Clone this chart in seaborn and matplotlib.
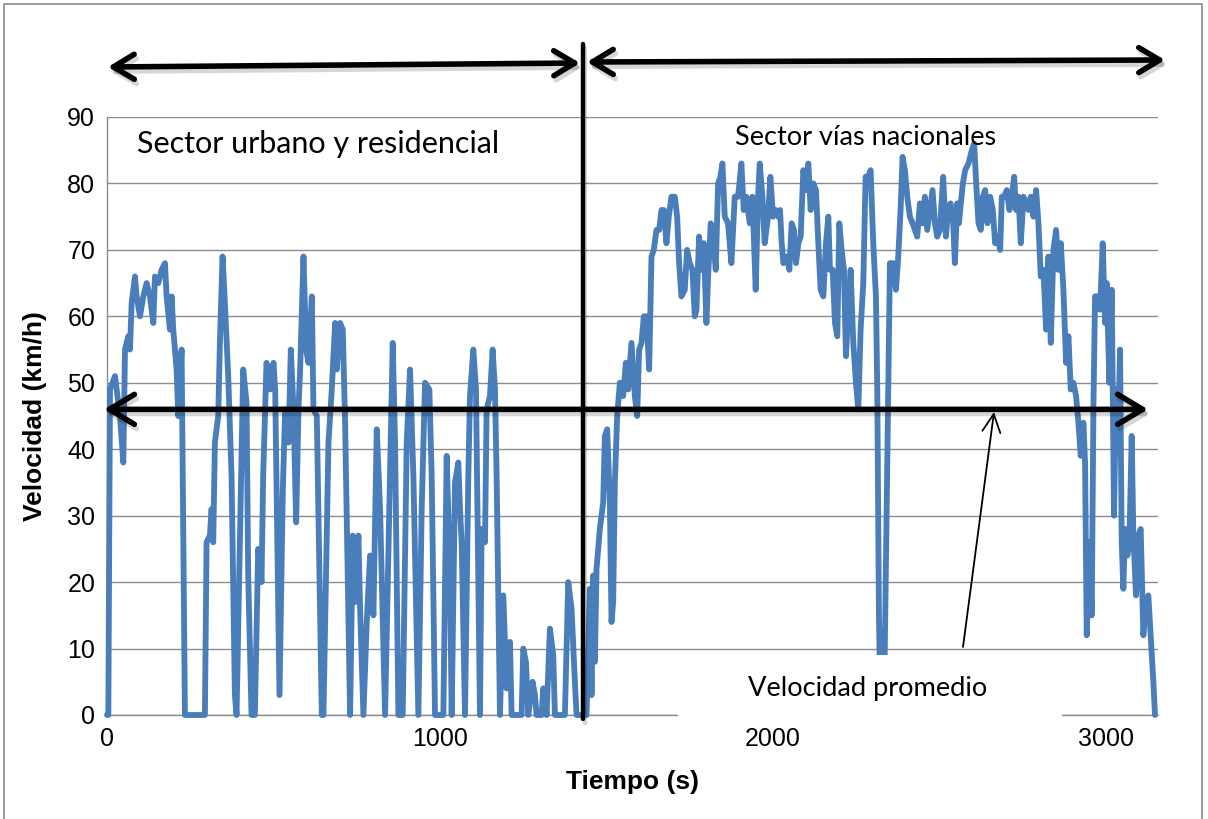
import matplotlib
matplotlib.use("Agg")
import matplotlib.pyplot as plt
import matplotlib.patheffects as pe
from matplotlib.patches import Rectangle, FancyArrowPatch
from matplotlib import font_manager
import pandas as pd
import seaborn as sns

# Speed trace (time in s, speed in km/h), urban / residential stretch
urban_trace = [
    (0, 0), (4, 0), (9, 49), (24, 51), (29, 49), (39, 45), (49, 38), (54, 55), (64, 57),
    (69, 55), (74, 62), (84, 66), (89, 63), (99, 60), (109, 63), (119, 65), (129, 63),
    (139, 59), (144, 66), (154, 65), (164, 67), (174, 68), (179, 63), (189, 58), (194, 63),
    (199, 58), (209, 52), (214, 45), (224, 55), (234, 0), (294, 0), (299, 26), (309, 27),
    (314, 31), (319, 26), (324, 41), (334, 45), (339, 56), (347, 69), (354, 62), (364, 51),
    (374, 36), (384, 3), (389, 0), (399, 26), (409, 52), (419, 47), (424, 21), (434, 0),
    (444, 0), (454, 25), (464, 20), (469, 36), (479, 53),
    (490, 49), (500, 53), (505, 49), (518, 3), (528, 34), (535, 46), (545, 41), (552, 55),
    (560, 46), (568, 29), (575, 46), (580, 52), (590, 69), (598, 55), (605, 53), (615, 63),
    (620, 46), (630, 45), (645, 0), (650, 0), (665, 41), (675, 49), (685, 59), (690, 52),
    (700, 59), (708, 58), (715, 44), (730, 0), (738, 27), (745, 17), (755, 27), (760, 16),
    (770, 0), (780, 14), (790, 24), (800, 15), (810, 43), (820, 31), (835, 0), (850, 37),
    (858, 56), (865, 41), (875, 0), (888, 0), (900, 41), (910, 52), (920, 36), (935, 0),
    (945, 31), (955, 50), (968, 49), (975, 36), (985, 0),
    (1010, 0), (1020, 39), (1030, 21), (1035, 0), (1045, 35), (1055, 38), (1060, 31),
    (1065, 26), (1075, 0), (1085, 36), (1090, 48), (1100, 55), (1108, 49), (1115, 21),
    (1120, 0), (1125, 28), (1135, 26), (1140, 46), (1150, 48), (1158, 55), (1165, 49),
    (1170, 36), (1180, 0), (1190, 18), (1200, 4), (1210, 11), (1215, 0), (1245, 0),
    (1250, 10), (1258, 8), (1265, 0), (1278, 5), (1285, 3), (1290, 0), (1305, 0), (1310, 4),
    (1320, 0), (1330, 13), (1340, 9), (1345, 0), (1375, 0), (1385, 20), (1395, 16),
    (1405, 5), (1410, 0), (1440, 0),
]

# Speed trace, national roads stretch
national_trace = [
    (1450, 19), (1455, 3), (1460, 21), (1465, 8), (1470, 22), (1480, 28), (1490, 32),
    (1495, 42), (1502, 43), (1510, 32), (1515, 14), (1520, 17), (1525, 35), (1532, 45),
    (1540, 50), (1550, 48), (1558, 53), (1565, 49), (1575, 56), (1585, 48), (1592, 45),
    (1598, 55), (1605, 56), (1612, 60), (1620, 60), (1628, 52), (1635, 69), (1642, 70),
    (1650, 73), (1658, 73), (1665, 76), (1672, 76), (1680, 71), (1687, 75), (1695, 78),
    (1705, 78), (1712, 75), (1718, 68), (1725, 63), (1735, 64), (1742, 70), (1750, 68),
    (1758, 67), (1765, 60), (1770, 61), (1778, 72), (1785, 67), (1792, 71), (1800, 59),
    (1805, 66), (1813, 74), (1820, 72), (1828, 67), (1835, 80), (1842, 81), (1848, 83),
    (1855, 75), (1865, 74), (1875, 68), (1885, 78), (1895, 78), (1905, 83), (1912, 76),
    (1920, 78), (1930, 74), (1938, 78), (1948, 64), (1955, 78), (1960, 83), (1968, 78),
    (1975, 71), (1985, 75), (1992, 81), (2000, 75), (2008, 76), (2015, 75),
    (2021, 76), (2026, 71), (2031, 68), (2041, 69), (2049, 67), (2056, 74), (2063, 73),
    (2069, 68), (2076, 71), (2083, 72), (2091, 82), (2099, 79), (2106, 83), (2113, 76),
    (2121, 80), (2129, 79), (2136, 71), (2143, 64), (2151, 63), (2159, 71), (2166, 75),
    (2171, 67), (2179, 67), (2186, 59), (2193, 57), (2199, 74), (2206, 70), (2213, 67),
    (2219, 54), (2226, 61), (2233, 67), (2241, 56), (2249, 50), (2256, 46), (2263, 58),
    (2271, 65), (2278, 81), (2286, 81), (2293, 82), (2301, 71), (2309, 63), (2313, 49),
    (2318, 15), (2323, 0), (2333, 0), (2339, 23), (2346, 49), (2351, 68), (2361, 68),
    (2369, 64), (2376, 69), (2383, 76), (2389, 84), (2396, 82), (2403, 78), (2411, 75),
    (2419, 74), (2426, 73), (2433, 72), (2441, 77), (2449, 74), (2456, 78), (2463, 73),
    (2471, 76), (2479, 79), (2486, 74), (2493, 72), (2501, 73), (2511, 81), (2519, 72),
    (2526, 76), (2533, 77), (2541, 74), (2546, 68), (2553, 77), (2558, 74),
    (2562, 76), (2570, 80), (2577, 82), (2587, 83), (2597, 85), (2604, 86), (2610, 80),
    (2617, 74), (2624, 73), (2630, 78), (2637, 79), (2644, 74), (2652, 78), (2660, 76),
    (2667, 71), (2674, 72), (2682, 70), (2687, 78), (2694, 78), (2702, 79), (2710, 76),
    (2717, 78), (2724, 81), (2730, 76), (2737, 78), (2744, 71), (2752, 78), (2760, 77),
    (2767, 76), (2774, 78), (2782, 75), (2790, 79), (2797, 74), (2804, 66), (2812, 67),
    (2820, 58), (2827, 69), (2834, 56), (2842, 70), (2850, 73), (2857, 67), (2864, 71),
    (2872, 64), (2880, 53), (2887, 57), (2894, 49), (2902, 50), (2910, 48), (2917, 44),
    (2924, 39), (2932, 44), (2937, 38), (2942, 12), (2950, 26), (2957, 15), (2962, 46),
    (2967, 63), (2974, 63), (2982, 61), (2990, 71), (2997, 59), (3002, 65), (3010, 50),
    (3017, 64), (3024, 30), (3030, 49), (3037, 44), (3042, 55), (3047, 26), (3052, 19),
    (3057, 28), (3064, 24), (3070, 26), (3077, 42), (3082, 27), (3090, 18), (3097, 27),
    (3104, 28), (3112, 12), (3120, 17), (3127, 18), (3134, 12), (3142, 5), (3147, 0),
]

mean_speed = 46          # km/h
sector_boundary = 1429   # s
x_ticks = [0, 1000, 2000, 3000]
y_ticks = list(range(0, 100, 10))
x_label = "Tiempo (s)"
y_label = "Velocidad (km/h)"
urban_title = "Sector urbano y residencial"
national_title = "Sector vías nacionales"
mean_label = "Velocidad promedio"

LINE_BLUE = "#4A7EBB"
GRID_GRAY = "#8C8C8C"
W, H = 1208, 819

sns.set_theme(style="white")
plt.rcParams["font.family"] = ["Liberation Sans", "DejaVu Sans"]

# Narrow face for the callout labels when it is available
installed = {f.name for f in font_manager.fontManager.ttflist}
label_font = ["Liberation Sans Narrow"] if "Liberation Sans Narrow" in installed else ["Lato"]
label_font = label_font + ["DejaVu Sans"]

fig = plt.figure(figsize=(W / 100, H / 100), dpi=100)
fig.patch.set_facecolor("white")


def fx(px):
    return px / W


def fy(py):
    return 1 - py / H


ax = fig.add_axes([fx(107), fy(715), (1158 - 107) / W, (715 - 117) / H])
ax.set_facecolor("white")

df = pd.DataFrame(urban_trace + national_trace, columns=["t", "v"])
sns.lineplot(data=df, x="t", y="v", ax=ax, color=LINE_BLUE, linewidth=4.2,
             estimator=None, sort=False, zorder=3)
for ln in ax.lines:
    ln.set_solid_joinstyle("round")
    ln.set_solid_capstyle("round")
    ln.set_clip_on(False)

ax.set_xlim(0, 3156)
ax.set_ylim(0, 90)
ax.set_xticks(x_ticks)
ax.set_yticks(y_ticks)
ax.tick_params(axis="both", length=0, labelsize=18, labelcolor="black")
ax.tick_params(axis="x", pad=9)
ax.tick_params(axis="y", pad=8.5)
ax.yaxis.grid(True, color=GRID_GRAY, linewidth=1.0)
ax.xaxis.grid(False)
ax.set_axisbelow(True)
for side in ("top", "right"):
    ax.spines[side].set_visible(False)
for side in ("left", "bottom"):
    ax.spines[side].set_color(GRID_GRAY)
    ax.spines[side].set_linewidth(1.0)

ax.set_xlabel(x_label, fontsize=19, fontweight="bold", color="black")
ax.set_ylabel(y_label, fontsize=19, fontweight="bold", color="black")
ax.xaxis.set_label_coords(0.5, -0.092)
ax.yaxis.set_label_coords(-0.057, 0.5)

shadow = [pe.SimpleLineShadow(offset=(1.5, -3), shadow_color="black", alpha=0.16),
          pe.Normal()]
HEADS = "<->,head_length=1.5,head_width=0.9"

# Boundary between the two sectors
ax.axvline(sector_boundary, ymin=-0.006, ymax=(715 - 44) / (715 - 117), color="black",
           linewidth=3.2, clip_on=False, zorder=5, path_effects=shadow)

# Average speed double arrow
ax.annotate("", xy=(3126, mean_speed), xytext=(-9, mean_speed), xycoords="data",
            annotation_clip=False, zorder=6,
            arrowprops=dict(arrowstyle=HEADS, lw=4.0, color="black",
                            shrinkA=0, shrinkB=0, path_effects=shadow))

# Sector extent arrows above the plot
for (x0, y0), (x1, y1) in [((108, 67), (580, 63)), ((587, 62), (1165, 60))]:
    fig.add_artist(FancyArrowPatch(
        (fx(x0), fy(y0)), (fx(x1), fy(y1)), transform=fig.transFigure,
        arrowstyle=HEADS, mutation_scale=10, lw=4.0, color="black",
        shrinkA=0, shrinkB=0, path_effects=shadow, zorder=6))

# Cover for the label box
fig.add_artist(Rectangle((fx(678), fy(728)), (1062 - 678) / W, (728 - 655) / H,
                         transform=fig.transFigure, facecolor="white",
                         edgecolor="none", zorder=7))

# Pointer from the label to the average line
fig.add_artist(FancyArrowPatch(
    (fx(963), fy(647)), (fx(994), fy(412)), transform=fig.transFigure,
    arrowstyle="->,head_length=1.3,head_width=0.65", mutation_scale=10,
    lw=1.3, color="black", shrinkA=0, shrinkB=0, zorder=8))

texts = [
    (fig.text(fx(318.5), fy(153), urban_title, ha="center", va="baseline",
              family=label_font, fontsize=24, color="black", zorder=9), 363),
    (fig.text(fx(866), fy(145), national_title, ha="center", va="baseline",
              family=label_font, fontsize=21, color="black", zorder=9), 262),
    (fig.text(fx(868), fy(696), mean_label, ha="center", va="baseline",
              family=label_font, fontsize=20, color="black", zorder=9), 240),
]
fig.canvas.draw()
renderer = fig.canvas.get_renderer()
for txt, target in texts:
    bb = txt.get_window_extent(renderer=renderer)
    txt.set_fontsize(txt.get_fontsize() * target / bb.width)

# Chart border
fig.add_artist(Rectangle((fx(4), -0.02), fx(1202) - fx(4), fy(4) + 0.02,
                         transform=fig.transFigure, fill=False,
                         edgecolor=GRID_GRAY, linewidth=1.2, zorder=10))

fig.savefig("out.png", dpi=100, facecolor="white")
